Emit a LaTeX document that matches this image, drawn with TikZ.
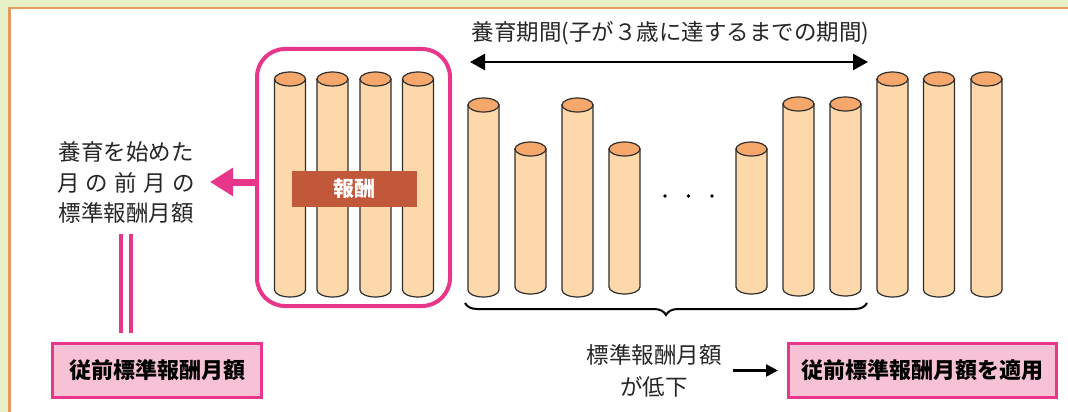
\documentclass[tikz,border=0pt]{standalone}
\usepackage{fontspec}
\setmainfont{Noto Sans CJK JP}
\usetikzlibrary{arrows.meta,decorations.pathreplacing}
\definecolor{bggreen}{HTML}{E7EFC6}
\definecolor{frameorange}{HTML}{E39B5F}
\definecolor{pinkc}{HTML}{E8378A}
\definecolor{pinkfill}{HTML}{F8C2D6}
\definecolor{cylbodyc}{HTML}{FDD8AB}
\definecolor{cyltopc}{HTML}{F5A76C}
\definecolor{labelbrown}{HTML}{C1583A}
\definecolor{cylline}{HTML}{2E2E2E}
\newcommand\cylbar[3]{%
  \filldraw[cylbody] ({#1-15.5},#2) -- ({#1-15.5},#3) arc[start angle=180,end angle=0,x radius=15.5,y radius=7] -- ({#1+15.5},#2) -- cycle;
  \filldraw[cyltop] (#1,#2) ellipse[x radius=15.5,y radius=7];}
\begin{document}
\begin{tikzpicture}[x=1pt,y=-1pt,
  cylbody/.style={fill=cylbodyc,draw=cylline,line width=1.2pt},
  cyltop/.style={fill=cyltopc,draw=cylline,line width=1.2pt},
  regtext/.style={font=\fontsize{22.5}{30.5}\selectfont,inner sep=0pt,align=center,text=black!85},
  resultbox/.style={draw=pinkc,fill=pinkfill,line width=3pt,minimum height=54pt,inner sep=0pt,font=\fontsize{22}{26}\bfseries\selectfont},
  pinkarrow/.style={pinkc,line width=7pt,-{Triangle[length=23pt,width=27pt]}},
  blackarrow/.style={black,line width=2.5pt}]
\useasboundingbox (0,0) rectangle (1068,412);
% background and frame
\fill[bggreen] (0,0) rectangle (1068,412);
\filldraw[fill=white,draw=frameorange,line width=2.5pt] (9.5,8) rectangle (1080,425);
% group box
\node[draw=pinkc,line width=4pt,rounded corners=28pt,minimum width=193pt,minimum height=257pt,inner sep=0pt] (grp) at (353.5,177.5) {};
% cylinders before childcare
\cylbar{290}{79}{290}
\cylbar{332.5}{79}{290}
\cylbar{375.5}{79}{290}
\cylbar{418}{79}{290}
% cylinders during childcare
\cylbar{483.5}{105}{290}
\cylbar{530.5}{149}{287}
\cylbar{577.5}{105}{290}
\cylbar{624.5}{149}{287}
\cylbar{751.5}{149}{287}
\cylbar{798.5}{104}{289}
\cylbar{845.5}{104}{289}
% cylinders after
\cylbar{892.5}{79}{290}
\cylbar{939}{79}{290}
\cylbar{986.5}{79}{290}
% dots
\fill (665,196) circle[radius=1.8];
\fill (688.5,196) circle[radius=1.8];
\fill (712,196) circle[radius=1.8];
% label
\node[fill=labelbrown,text=white,minimum width=125pt,minimum height=36pt,inner sep=0pt,font=\fontsize{21}{24}\bfseries\selectfont] (rlabel) at (354.5,189) {報酬};
% left text
\node[regtext] (leftlbl) at (126,182.5) {養育を始めた\\\makebox[138pt][s]{月\hfill の\hfill 前\hfill 月\hfill の}\\標準報酬月額};
\coordinate (lefttip) at (210,182);
\draw[pinkarrow] (grp.west |- lefttip) -- (lefttip);
% box 1
\node[resultbox,minimum width=209pt] (box1) at (157,370.5) {従前標準報酬月額};
\draw[pinkc,line width=3.5pt,double=white,double distance=6.5pt,shorten <=10pt,shorten >=9pt] (leftlbl.south) -- (leftlbl.south |- box1.north);
% top period
\node[regtext] (period) at (670.5,33) {養育期間(子が３歳に達するまでの期間)};
\coordinate (perL) at (470,62);
\coordinate (perR) at (868,62);
\draw[blackarrow,{Triangle[length=15pt,width=16pt]}-{Triangle[length=15pt,width=16pt]}] (perL) -- (perR);
% brace
\coordinate (brL) at (465,303);
\coordinate (brR) at (867,303);
\draw[line width=2pt,decorate,decoration={brace,amplitude=12pt,mirror}] (brL) -- (brR);
% lower text
\node[regtext,font=\fontsize{22.5}{32}\selectfont] (lower) at (654,371) {標準報酬月額\\が低下};
\node[resultbox,minimum width=268pt] (box2) at (922.5,370.5) {従前標準報酬月額を適用};
\draw[blackarrow,-{Triangle[length=12pt,width=12pt]},shorten <=11pt,shorten >=9pt] (lower.east |- box2.west) -- (box2.west);
\end{tikzpicture}
\end{document}
